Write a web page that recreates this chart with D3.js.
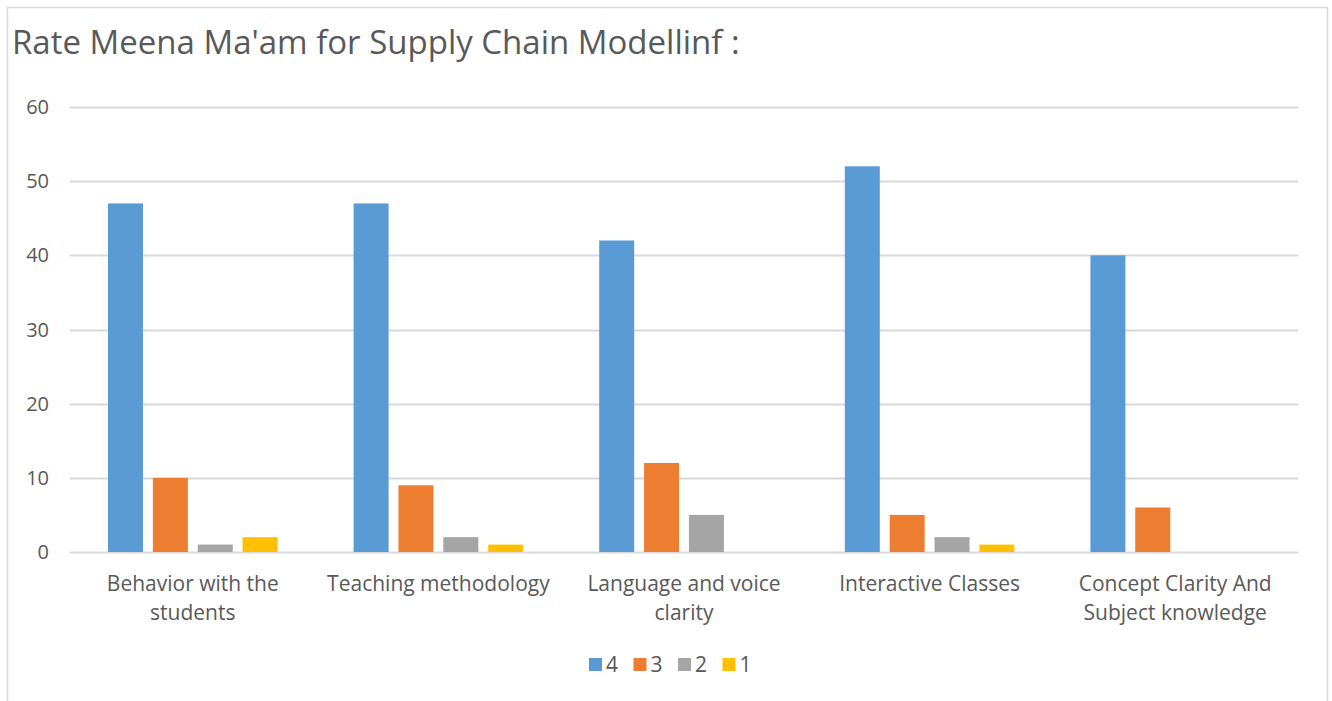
<!DOCTYPE html>
<html lang="en">
<head>
    <meta charset="utf-8">
    <script src="https://d3js.org/d3.v7.min.js"></script>
    <style>
        body { margin: 0; background: #fff; }
        text { font-family: "Open Sans", "Noto Sans", sans-serif; fill: #595959; }
    </style>
</head>
<body>
<div id="chart"></div>
<script>
    // data
    var categories = ["Behavior with the students", "Teaching methodology", "Language and voice clarity", "Interactive Classes", "Concept Clarity And Subject knowledge"]
    var seriesNames = ["4", "3", "2", "1"]
    var s4 = [47, 47, 42, 52, 40]
    var s3 = [10, 9, 12, 5, 6]
    var s2 = [1, 2, 5, 2, 0]
    var s1 = [2, 1, 0, 1, 0]
    var yTicks = [0, 10, 20, 30, 40, 50, 60]
    var colors = ["#5B9BD5", "#ED7D31", "#A5A5A5", "#FFC000"]

    var width = 1332, height = 701
    var margin = {top: 107, right: 34, bottom: 149, left: 70}

    var svg = d3.select("#chart").append("svg")
        .attr("width", width)
        .attr("height", height)

    // chart border
    svg.append("rect")
        .attr("x", 7.5).attr("y", 7.5)
        .attr("width", 1320).attr("height", 710)
        .attr("fill", "none")
        .attr("stroke", "#D9D9D9")
        .attr("stroke-width", 1.5)

    svg.append("text")
        .attr("x", 12).attr("y", 54)
        .style("font-size", "33px")
        .text("Rate Meena Ma'am for Supply Chain Modellinf :")

    var y = d3.scaleLinear()
        .domain([0, 60])
        .range([height - margin.bottom, margin.top])

    var x0 = d3.scaleBand()
        .domain(categories)
        .range([margin.left, width - margin.right])
        .padding(0)

    var x1 = d3.scaleBand()
        .domain(seriesNames)
        .range([38, x0.bandwidth() - 38])
        .paddingInner(0.22)

    // gridlines
    svg.append("g")
        .selectAll("line")
        .data(yTicks)
        .enter()
        .append("line")
        .attr("x1", margin.left)
        .attr("x2", width - margin.right)
        .attr("y1", function(d) { return Math.round(y(d)) + 0.5 })
        .attr("y2", function(d) { return Math.round(y(d)) + 0.5 })
        .attr("stroke", "#D9D9D9")
        .attr("stroke-width", 2)

    // y axis labels
    svg.append("g")
        .selectAll("text")
        .data(yTicks)
        .enter()
        .append("text")
        .attr("x", 49)
        .attr("y", function(d) { return y(d) })
        .attr("dy", "0.35em")
        .attr("text-anchor", "end")
        .style("font-size", "20px")
        .text(function(d) { return d })

    var series = [s4, s3, s2, s1]
    var rows = categories.map(function(c, i) {
        return seriesNames.map(function(s, j) { return {cat: c, key: s, value: series[j][i], color: colors[j]} })
    })

    svg.append("g")
        .selectAll("g")
        .data(rows)
        .enter()
        .append("g")
        .attr("transform", function(d) { return "translate(" + x0(d[0].cat) + ",0)" })
        .selectAll("rect")
        .data(function(d) { return d.filter(function(e) { return e.value > 0 }) })
        .enter()
        .append("rect")
        .attr("x", function(d) { return x1(d.key) })
        .attr("width", x1.bandwidth())
        .attr("y", function(d) { return y(d.value) })
        .attr("height", function(d) { return y(0) - y(d.value) })
        .attr("fill", function(d) { return d.color })

    // category labels, wrapped
    var catLabels = svg.append("g")
        .selectAll("text")
        .data(categories)
        .enter()
        .append("text")
        .attr("x", function(d) { return x0(d) + x0.bandwidth() / 2 })
        .attr("y", 591)
        .attr("text-anchor", "middle")
        .style("font-size", "21px")

    catLabels.each(function(d) {
        var el = d3.select(this)
        var words = d.split(" ")
        var line = [], lines = []
        var probe = el.append("tspan")
        words.forEach(function(w) {
            line.push(w)
            probe.text(line.join(" "))
            if (probe.node().getComputedTextLength() > 236 && line.length > 1) {
                line.pop()
                lines.push(line.join(" "))
                line = [w]
            }
        })
        lines.push(line.join(" "))
        probe.remove()
        lines.forEach(function(l, i) {
            el.append("tspan")
                .attr("x", x0(d) + x0.bandwidth() / 2)
                .attr("dy", i == 0 ? 0 : 29)
                .text(l)
        })
    })

    // legend
    var legend = svg.append("g").attr("transform", "translate(589,665)")
    var lx = 0
    seriesNames.forEach(function(s, i) {
        legend.append("rect")
            .attr("x", lx).attr("y", -7)
            .attr("width", 13).attr("height", 13)
            .attr("fill", colors[i])
        legend.append("text")
            .attr("x", lx + 17).attr("y", 0)
            .attr("dy", "0.35em")
            .style("font-size", "21px")
            .text(s)
        lx += 44.5
    })
</script>
</body>
</html>
